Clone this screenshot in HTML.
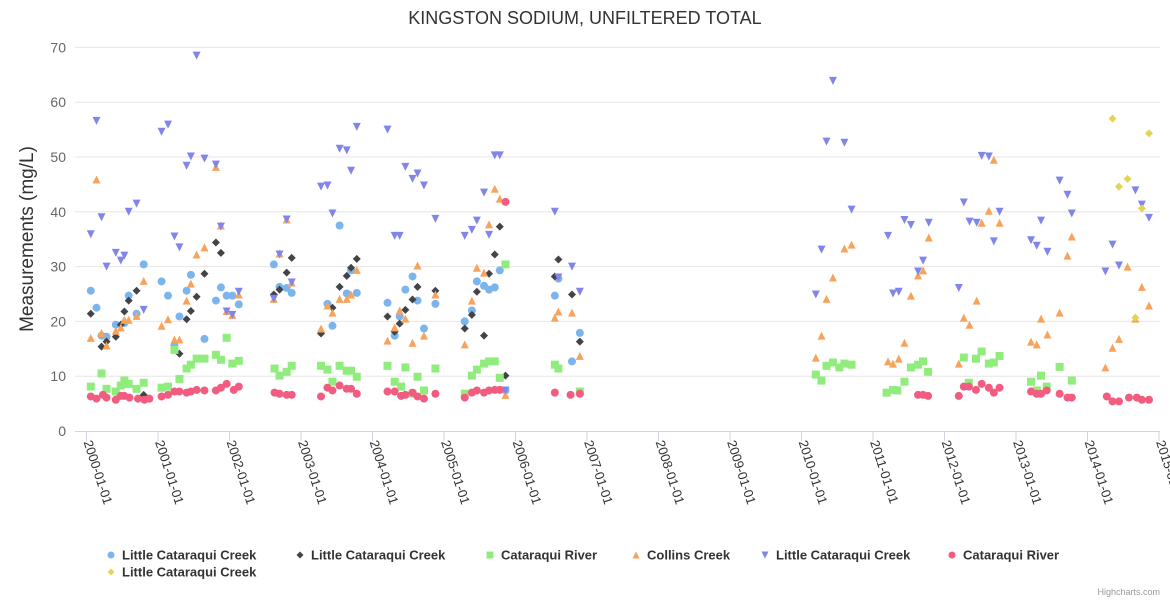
<!DOCTYPE html>
<html><head><meta charset="utf-8">
<style>
html,body{margin:0;padding:0;background:#fff;}
svg{display:block;font-family:"Liberation Sans",sans-serif;}
</style></head>
<body>
<svg id="chart" width="1170" height="600" viewBox="0 0 1170 600" xmlns="http://www.w3.org/2000/svg">
<rect width="1170" height="600" fill="#fff"/>
<text x="585" y="24" text-anchor="middle" font-size="18" fill="#333">KINGSTON SODIUM, UNFILTERED TOTAL</text>
<text transform="translate(33,239) rotate(-90)" text-anchor="middle" font-size="19" fill="#333">Measurements (mg/L)</text>
<g id="grid"></g><g id="xaxis"></g><g id="marks"></g><g id="legend"></g>
<text x="1160" y="595" text-anchor="end" font-size="9" fill="#999">Highcharts.com</text>
</svg>
<script>
const yTicks = [0,10,20,30,40,50,60,70];
const xTickYears = [2000,2001,2002,2003,2004,2005,2006,2007,2008,2009,2010,2011,2012,2013,2014,2015];
const seriesNames = ["Little Cataraqui Creek","Little Cataraqui Creek","Cataraqui River","Collins Creek","Little Cataraqui Creek","Cataraqui River","Little Cataraqui Creek"];
const blueCircle = [[2000.06,25.6],[2000.14,22.5],[2000.21,17.4],[2000.28,17.2],[2000.41,19.4],[2000.53,19.7],[2000.59,24.7],[2000.70,21.4],[2000.80,30.4],[2001.05,27.3],[2001.14,24.7],[2001.23,15.6],[2001.30,20.9],[2001.40,25.6],[2001.46,28.5],[2001.65,16.8],[2001.81,23.8],[2001.88,26.2],[2001.96,24.7],[2002.04,24.7],[2002.13,23.1],[2002.62,30.4],[2002.70,26.3],[2002.80,26.1],[2002.87,25.2],[2003.37,23.2],[2003.44,19.2],[2003.54,37.5],[2003.64,25.1],[2003.70,29.3],[2003.78,25.2],[2004.21,23.4],[2004.31,17.4],[2004.38,20.9],[2004.46,25.8],[2004.56,28.2],[2004.63,23.8],[2004.72,18.7],[2004.88,23.2],[2005.29,20.0],[2005.39,22.0],[2005.46,27.3],[2005.56,26.5],[2005.63,25.8],[2005.71,26.2],[2005.78,29.3],[2005.86,7.4],[2006.55,24.7],[2006.60,27.8],[2006.79,12.7],[2006.90,17.9]];
const blackDiamond = [[2000.06,21.4],[2000.21,15.4],[2000.28,16.3],[2000.41,17.2],[2000.48,19.4],[2000.53,21.8],[2000.59,23.8],[2000.70,25.6],[2000.80,6.6],[2001.30,14.1],[2001.40,20.4],[2001.46,21.9],[2001.54,24.5],[2001.65,28.7],[2001.81,34.4],[2001.88,32.5],[2002.62,24.9],[2002.70,25.8],[2002.80,28.9],[2002.87,31.6],[2003.28,17.8],[2003.44,22.5],[2003.54,26.3],[2003.64,28.3],[2003.70,29.8],[2003.78,31.4],[2004.21,20.9],[2004.31,18.1],[2004.38,19.6],[2004.46,22.1],[2004.56,24.0],[2004.63,26.3],[2004.88,25.6],[2005.29,18.7],[2005.39,21.2],[2005.46,25.4],[2005.56,17.4],[2005.63,28.7],[2005.71,32.2],[2005.78,37.3],[2005.86,10.1],[2006.55,28.2],[2006.60,31.3],[2006.79,24.9],[2006.90,16.3]];
const greenSquare = [[2000.06,8.1],[2000.21,10.5],[2000.28,7.7],[2000.41,7.2],[2000.48,8.3],[2000.53,9.2],[2000.59,8.6],[2000.70,7.7],[2000.80,8.8],[2001.05,7.9],[2001.14,8.1],[2001.23,14.8],[2001.30,9.5],[2001.40,11.4],[2001.46,12.1],[2001.54,13.2],[2001.65,13.2],[2001.81,13.9],[2001.88,13.0],[2001.96,17.0],[2002.04,12.3],[2002.13,12.8],[2002.63,11.4],[2002.70,10.1],[2002.80,10.8],[2002.87,11.9],[2003.28,11.9],[2003.37,11.2],[2003.44,9.0],[2003.54,11.9],[2003.64,11.0],[2003.70,11.0],[2003.78,9.9],[2004.21,11.9],[2004.31,9.0],[2004.40,8.1],[2004.46,11.6],[2004.56,6.8],[2004.63,9.9],[2004.72,7.4],[2004.88,11.4],[2005.29,6.8],[2005.39,10.1],[2005.46,11.2],[2005.56,12.3],[2005.63,12.7],[2005.71,12.7],[2005.78,9.7],[2005.86,30.4],[2006.55,12.1],[2006.60,11.4],[2006.90,7.2],[2010.20,10.3],[2010.28,9.2],[2010.35,11.9],[2010.44,12.5],[2010.53,11.6],[2010.60,12.3],[2010.70,12.1],[2011.19,7.0],[2011.28,7.5],[2011.34,7.4],[2011.44,9.0],[2011.53,11.6],[2011.63,12.1],[2011.70,12.7],[2011.77,10.8],[2012.27,13.4],[2012.34,8.8],[2012.44,13.2],[2012.52,14.5],[2012.62,12.3],[2012.69,12.5],[2012.77,13.7],[2013.21,9.0],[2013.29,7.4],[2013.35,10.1],[2013.43,8.1],[2013.61,11.7],[2013.78,9.2]];
const orangeTriangle = [[2000.06,17.0],[2000.14,45.9],[2000.21,17.9],[2000.28,15.6],[2000.41,18.3],[2000.48,18.9],[2000.53,20.3],[2000.59,20.3],[2000.70,21.0],[2000.80,27.4],[2001.05,19.2],[2001.14,20.4],[2001.23,16.7],[2001.30,16.7],[2001.40,23.8],[2001.46,26.9],[2001.54,32.2],[2001.65,33.5],[2001.81,48.2],[2001.88,37.5],[2001.96,21.9],[2002.04,21.2],[2002.13,24.9],[2002.62,24.1],[2002.70,32.4],[2002.80,38.6],[2002.87,27.1],[2003.28,18.7],[2003.37,22.9],[2003.44,21.6],[2003.54,24.1],[2003.64,24.1],[2003.70,24.9],[2003.78,29.4],[2004.21,16.5],[2004.31,18.9],[2004.38,22.0],[2004.46,20.5],[2004.56,16.1],[2004.63,30.2],[2004.72,17.4],[2004.88,24.9],[2005.29,15.8],[2005.39,23.8],[2005.46,29.8],[2005.56,28.9],[2005.63,37.7],[2005.71,44.2],[2005.78,42.4],[2005.86,6.6],[2006.55,20.7],[2006.60,21.8],[2006.79,21.6],[2006.90,13.7],[2010.20,13.4],[2010.28,17.4],[2010.35,24.1],[2010.44,28.0],[2010.60,33.3],[2010.70,34.0],[2011.21,12.7],[2011.28,12.3],[2011.36,13.2],[2011.44,16.1],[2011.53,24.7],[2011.63,28.4],[2011.70,29.3],[2011.78,35.3],[2012.20,12.3],[2012.27,20.7],[2012.35,19.4],[2012.45,23.8],[2012.52,38.0],[2012.62,40.2],[2012.69,49.5],[2012.77,38.0],[2013.21,16.3],[2013.29,15.8],[2013.35,20.5],[2013.44,17.6],[2013.61,21.6],[2013.72,32.0],[2013.78,35.5],[2014.25,11.6],[2014.35,15.2],[2014.44,16.8],[2014.56,30.0],[2014.67,20.5],[2014.76,26.3],[2014.86,22.9]];
const purpleDown = [[2000.06,35.9],[2000.14,56.6],[2000.21,39.0],[2000.28,30.0],[2000.41,32.5],[2000.48,31.1],[2000.53,32.0],[2000.59,40.0],[2000.70,41.5],[2000.80,22.1],[2001.05,54.6],[2001.14,55.9],[2001.23,35.5],[2001.30,33.5],[2001.40,48.4],[2001.46,50.1],[2001.54,68.5],[2001.65,49.7],[2001.81,48.6],[2001.88,37.3],[2001.96,21.8],[2002.04,21.2],[2002.13,25.4],[2002.62,24.1],[2002.70,32.2],[2002.80,38.6],[2002.87,27.1],[2003.28,44.6],[2003.37,44.8],[2003.44,39.7],[2003.54,51.5],[2003.64,51.2],[2003.70,47.5],[2003.78,55.5],[2004.21,55.0],[2004.31,35.6],[2004.38,35.6],[2004.46,48.2],[2004.56,46.0],[2004.63,47.0],[2004.72,44.8],[2004.88,38.7],[2005.29,35.6],[2005.39,36.7],[2005.46,38.4],[2005.56,43.5],[2005.63,35.8],[2005.71,50.3],[2005.78,50.3],[2005.86,7.4],[2006.55,40.0],[2006.60,28.0],[2006.79,30.0],[2006.90,25.4],[2010.20,24.9],[2010.28,33.1],[2010.35,52.8],[2010.44,63.9],[2010.60,52.6],[2010.70,40.4],[2011.21,35.6],[2011.28,25.1],[2011.36,25.4],[2011.44,38.5],[2011.53,37.6],[2011.63,29.1],[2011.70,31.1],[2011.78,38.0],[2012.20,26.1],[2012.27,41.7],[2012.35,38.2],[2012.45,38.0],[2012.52,50.2],[2012.62,50.1],[2012.69,34.6],[2012.77,40.0],[2013.21,34.8],[2013.29,33.8],[2013.35,38.4],[2013.44,32.7],[2013.61,45.7],[2013.72,43.1],[2013.78,39.7],[2014.25,29.1],[2014.35,34.0],[2014.44,30.2],[2014.67,43.9],[2014.76,41.3],[2014.86,38.9]];
const redCircle = [[2000.06,6.3],[2000.14,5.9],[2000.23,6.6],[2000.28,6.1],[2000.41,5.7],[2000.48,6.4],[2000.53,6.4],[2000.60,6.1],[2000.72,5.9],[2000.81,5.7],[2000.88,5.9],[2001.05,6.3],[2001.14,6.6],[2001.23,7.2],[2001.30,7.2],[2001.40,7.0],[2001.46,7.2],[2001.54,7.5],[2001.65,7.4],[2001.81,7.4],[2001.88,7.9],[2001.96,8.6],[2002.06,7.5],[2002.13,8.1],[2002.63,7.0],[2002.70,6.8],[2002.80,6.6],[2002.87,6.6],[2003.28,6.3],[2003.37,7.9],[2003.44,7.4],[2003.54,8.3],[2003.64,7.7],[2003.70,7.7],[2003.78,6.8],[2004.21,7.2],[2004.31,7.2],[2004.40,6.4],[2004.46,6.6],[2004.56,7.0],[2004.63,6.3],[2004.72,5.9],[2004.88,6.8],[2005.29,6.1],[2005.39,7.0],[2005.46,7.4],[2005.56,7.0],[2005.63,7.4],[2005.71,7.5],[2005.78,7.5],[2005.86,41.8],[2006.55,7.0],[2006.77,6.6],[2006.90,6.8],[2011.63,6.6],[2011.70,6.6],[2011.77,6.4],[2012.20,6.4],[2012.27,8.1],[2012.34,8.1],[2012.44,7.5],[2012.52,8.6],[2012.62,7.9],[2012.69,7.0],[2012.77,7.9],[2013.21,7.2],[2013.29,6.8],[2013.35,6.8],[2013.43,7.4],[2013.61,6.8],[2013.72,6.1],[2013.78,6.1],[2014.27,6.3],[2014.35,5.4],[2014.44,5.4],[2014.58,6.1],[2014.69,6.1],[2014.76,5.7],[2014.86,5.7]];
const yellowDiamond = [[2014.35,57.0],[2014.44,44.6],[2014.56,46.0],[2014.67,20.7],[2014.76,40.6],[2014.86,54.3]];

const NS = "http://www.w3.org/2000/svg";
const plotLeft = 75, plotRight = 1160;
function xScale(yr){ return 86.5 + (yr - 2000) * 71.5; }
function yScale(v){ return 431 - v * 5.48; }
function mk(tag, attrs, parent){ const e = document.createElementNS(NS, tag); for (const k in attrs) e.setAttribute(k, attrs[k]); parent.appendChild(e); return e; }

const grid = document.getElementById('grid');
yTicks.forEach(t => {
  const y = yScale(t);
  if (t > 0) {
    const l = mk('line', {x1: plotLeft, x2: plotRight, y1: y, y2: y, stroke: '#e6e6e6', 'stroke-width': 1}, grid);
    
    
  }
  const tx = mk('text', {x: 66, y: y + 5, 'text-anchor': 'end', 'font-size': 14, fill: '#666'}, grid);
  tx.textContent = t;
  
  
});

const xa = document.getElementById('xaxis');
const axl = mk('line', {x1: plotLeft, x2: plotRight, y1: 431.5, y2: 431.5, stroke: '#ccd6eb', 'stroke-width': 1}, xa);


xTickYears.forEach(yr => {
  const x = xScale(yr);
  const tk = mk('line', {x1: x, x2: x, y1: 431, y2: 441, stroke: '#ccd6eb', 'stroke-width': 1}, xa);
  
  
  const tx = mk('text', {transform: 'translate(' + (x - 3) + ',442) rotate(72)', 'font-size': 13, fill: '#333'}, xa);
  tx.textContent = yr + '-01-01';
  
  
});

const colors = ['#7cb5ec','#434348','#90ed7d','#f7a35c','#8085e9','#f15c80','#e4d354'];
const symbols = ['circle','diamond','square','triangle','triangle-down','circle','diamond'];
const allSeries = [blueCircle, blackDiamond, greenSquare, orangeTriangle, purpleDown, redCircle, yellowDiamond];

function drawSymbol(sym, cx, cy, r, color, parent){
  let e;
  if (sym === 'circle') e = mk('circle', {cx: cx, cy: cy, r: r, fill: color}, parent);
  else if (sym === 'square') e = mk('rect', {x: cx - r, y: cy - r, width: 2 * r, height: 2 * r, fill: color}, parent);
  else if (sym === 'diamond') e = mk('path', {d: 'M' + cx + ' ' + (cy - r) + 'L' + (cx + r) + ' ' + cy + 'L' + cx + ' ' + (cy + r) + 'L' + (cx - r) + ' ' + cy + 'Z', fill: color}, parent);
  else if (sym === 'triangle') e = mk('path', {d: 'M' + cx + ' ' + (cy - r) + 'L' + (cx + r) + ' ' + (cy + r) + 'L' + (cx - r) + ' ' + (cy + r) + 'Z', fill: color}, parent);
  else e = mk('path', {d: 'M' + (cx - r) + ' ' + (cy - r) + 'L' + (cx + r) + ' ' + (cy - r) + 'L' + cx + ' ' + (cy + r) + 'Z', fill: color}, parent);
  return e;
}

const marks = document.getElementById('marks');
allSeries.forEach((data, si) => {
  const g = mk('g', {}, marks);
  
  
  data.forEach(p => {
    const e = drawSymbol(symbols[si], xScale(p[0]), yScale(p[1]), 4, colors[si], g);
    
    
  });
});

const legend = document.getElementById('legend');
const legendX = [111, 300, 490, 636, 765, 952, 111];
const legendY = [555, 555, 555, 555, 555, 555, 572];
seriesNames.forEach((name, i) => {
  const g = mk('g', {}, legend);
  
  
  drawSymbol(symbols[i], legendX[i], legendY[i], 3.5, colors[i], g);
  const t = mk('text', {x: legendX[i] + 11, y: legendY[i] + 4.5, 'font-size': 13, 'font-weight': 'bold', fill: '#333'}, g);
  t.textContent = name;
});
</script>
</body></html>
